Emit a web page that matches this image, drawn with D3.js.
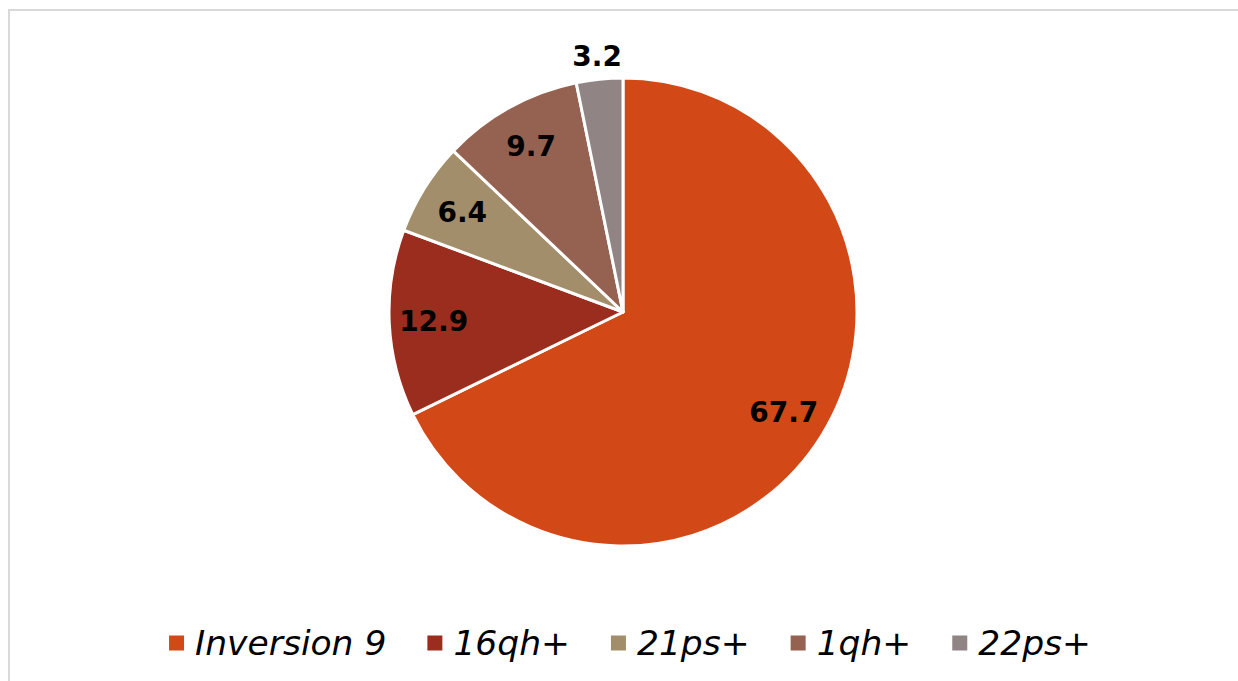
<!DOCTYPE html>
<html><head><meta charset="utf-8">
<script src="https://cdn.jsdelivr.net/npm/d3@7"></script>
<style>body{margin:0;background:#fff}svg{display:block}</style>
</head><body>
<svg id="c" width="1238" height="681"></svg>
<script>
const categories = ["Inversion 9", "16qh+", "21ps+", "1qh+", "22ps+"];
const values = [67.7, 12.9, 6.4, 9.7, 3.2];
const labels = ["67.7", "12.9", "6.4", "9.7", "3.2"];
const colors = ["#D34817", "#9B2D1F", "#A28E6A", "#956251", "#918485"];

const svg = d3.select("#c");
svg.append("rect").attr("x", 9).attr("y", 10).attr("width", 1260).attr("height", 700)
  .attr("fill", "#fff").attr("stroke", "#d9d9d9").attr("stroke-width", 2);

const cx = 623, cy = 312, R = 234;
const data = categories.map((c, i) => ({cat: c, v: values[i], lab: labels[i], col: colors[i]}));
const pie = d3.pie().value(d => d.v).sort(null);
const arcs = pie(data);
const arc = d3.arc().innerRadius(0).outerRadius(R);
const g = svg.append("g").attr("transform", `translate(${cx},${cy})`);
g.selectAll("path").data(arcs).join("path")
  .attr("d", arc).attr("fill", d => d.data.col)
  .attr("stroke", "#fff").attr("stroke-width", 3).attr("stroke-linejoin", "round");

const total = d3.sum(values);
g.selectAll("text").data(arcs).join("text")
  .attr("transform", d => {
    const small = d.data.v / total < 0.05;
    const r = small ? R * 1.1 : R * 0.81;
    const a = (d.startAngle + d.endAngle) / 2;
    return `translate(${r * Math.sin(a)},${-r * Math.cos(a)})`;
  })
  .attr("text-anchor", "middle").attr("dy", "0.36em")
  .attr("font-family", "DejaVu Sans, Verdana, sans-serif").attr("font-weight", "bold")
  .attr("font-size", 28).attr("fill", "#000")
  .text(d => d.data.lab);

// legend
const lg = svg.append("g");
const fs = 34.5, sq = 15, gapSq = 11, gapItem = 41, ly = 643;
let x = 0;
data.forEach((d, i) => {
  const it = lg.append("g");
  it.append("rect").attr("x", x).attr("y", ly - sq / 2).attr("width", sq).attr("height", sq).attr("fill", d.col);
  const t = it.append("text").attr("x", x + sq + gapSq).attr("y", ly).attr("dy", "0.36em")
    .attr("font-family", "DejaVu Sans, Verdana, sans-serif").attr("font-style", "italic")
    .attr("font-size", fs).attr("fill", "#000").text(d.cat);
  const w = t.node().getComputedTextLength();
  x += sq + gapSq + w + gapItem;
});
const totalW = x - gapItem;
lg.attr("transform", `translate(${630 - totalW / 2},0)`);
</script>
</body></html>
